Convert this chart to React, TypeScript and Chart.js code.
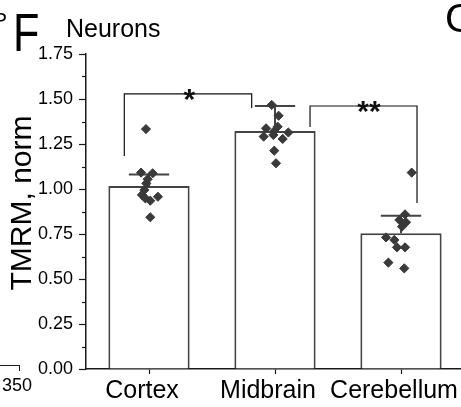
import React, { useEffect, useRef } from 'react';
import { Chart, registerables } from 'chart.js';

Chart.register(...registerables);

const FONT = '"Liberation Sans", Arial, Helvetica, sans-serif';

// ---- data ----
const categories = ['Cortex', 'Midbrain', 'Cerebellum'];
const barMeans = [1.017, 1.322, 0.754];
const errUpper = [1.081, 1.461, 0.852];

const cortexValues = [1.333, 1.091, 1.087, 1.054, 1.031, 0.994, 0.967, 0.948, 0.935, 0.957, 0.843];
const cortexJitter = [-0.024, -0.063, 0.029, -0.011, -0.021, -0.037, -0.056, -0.029, 0.01, 0.071, 0.01];
const midbrainValues = [1.467, 1.407, 1.346, 1.337, 1.322, 1.3, 1.291, 1.314, 1.278, 1.213, 1.143];
const midbrainJitter = [-0.026, 0.029, 0.021, -0.071, -0.006, -0.013, -0.09, 0.106, 0.061, -0.006, 0.008];
const cerebellumValues = [1.091, 0.859, 0.828, 0.815, 0.791, 0.731, 0.717, 0.676, 0.676, 0.591, 0.559];
const cerebellumJitter = [0.085, 0.032, -0.013, 0.04, 0.008, -0.119, -0.053, -0.032, 0.032, -0.1, 0.026];

const yMin = 0;
const yMax = 1.75;
const yMajorStep = 0.25;
const yMinorTicks = [0.125, 0.375, 0.625, 0.875, 1.125, 1.375, 1.625];

const bracketStarts = [-0.196, 1.278];
const bracketEnds = [0.815, 2.127];
const bracketTops = [1.528, 1.461];
const bracketLeftFeet = [1.183, 1.344];
const bracketRightFeet = [1.45, 0.922];
const bracketLabels = ['*', '**'];
const bracketLabelPos = [0.32, 1.746];

const yTitle = 'TMRM, norm';
const panelTitle = 'Neurons';

const BAR_EDGE = '#444444';
const POINT_COLOR = '#3a3a3a';
const AXIS_COLOR = '#1a1a1a';

const groups = [
  { values: cortexValues, jitter: cortexJitter },
  { values: midbrainValues, jitter: midbrainJitter },
  { values: cerebellumValues, jitter: cerebellumJitter },
];

const scatterPoints = groups.flatMap((g, i) =>
  g.values.map((v, k) => ({ x: i + g.jitter[k], y: v }))
);
const barPoints = barMeans.map((m, i) => ({ x: i, y: m }));

const errorBarPlugin = {
  id: 'errorBars',
  afterDatasetDraw(chart: any, args: any) {
    if (args.index !== 0) return;
    const { ctx } = chart;
    const xs = chart.scales.x;
    const ys = chart.scales.y;
    const capHalf = 0.16;
    ctx.save();
    ctx.strokeStyle = BAR_EDGE;
    ctx.lineWidth = 2;
    barMeans.forEach((m, i) => {
      const px = xs.getPixelForValue(i);
      const y0 = ys.getPixelForValue(m);
      const y1 = ys.getPixelForValue(errUpper[i]);
      ctx.beginPath();
      ctx.moveTo(px, y0);
      ctx.lineTo(px, y1);
      ctx.moveTo(xs.getPixelForValue(i - capHalf), y1);
      ctx.lineTo(xs.getPixelForValue(i + capHalf), y1);
      ctx.stroke();
    });
    ctx.restore();
  },
};

const decorPlugin = {
  id: 'decor',
  afterDatasetsDraw(chart: any) {
    const { ctx, chartArea } = chart;
    const xs = chart.scales.x;
    const ys = chart.scales.y;
    ctx.save();
    // minor ticks
    ctx.strokeStyle = AXIS_COLOR;
    ctx.lineWidth = 1.2;
    yMinorTicks.forEach((v) => {
      const py = Math.round(ys.getPixelForValue(v)) + 0.5;
      ctx.beginPath();
      ctx.moveTo(chartArea.left - 4, py);
      ctx.lineTo(chartArea.left, py);
      ctx.stroke();
    });
    // significance brackets
    ctx.strokeStyle = '#111';
    ctx.lineWidth = 1.2;
    bracketLabels.forEach((lab, i) => {
      const x1 = xs.getPixelForValue(bracketStarts[i]);
      const x2 = xs.getPixelForValue(bracketEnds[i]);
      const yt = ys.getPixelForValue(bracketTops[i]);
      ctx.beginPath();
      ctx.moveTo(x1, ys.getPixelForValue(bracketLeftFeet[i]));
      ctx.lineTo(x1, yt);
      ctx.lineTo(x2, yt);
      ctx.lineTo(x2, ys.getPixelForValue(bracketRightFeet[i]));
      ctx.stroke();
      ctx.fillStyle = '#111';
      ctx.font = `bold 30px ${FONT}`;
      ctx.textAlign = 'center';
      ctx.textBaseline = 'alphabetic';
      ctx.fillText(lab, xs.getPixelForValue(bracketLabelPos[i]), yt + 15);
    });
    // y title
    ctx.fillStyle = '#000';
    ctx.font = `30px ${FONT}`;
    ctx.textAlign = 'center';
    ctx.textBaseline = 'middle';
    ctx.translate(23, 203);
    ctx.rotate(-Math.PI / 2);
    ctx.fillText(yTitle, 0, 0);
    ctx.restore();
  },
};

export default function App() {
  const ref = useRef<HTMLCanvasElement | null>(null);

  useEffect(() => {
    if (!ref.current) return;
    const chart = new Chart(ref.current, {
      type: 'bar',
      data: {
        datasets: [
          {
            type: 'bar',
            data: barPoints,
            backgroundColor: '#ffffff',
            borderColor: BAR_EDGE,
            borderWidth: 2,
            barPercentage: 0.645,
            categoryPercentage: 1,
            grouped: false,
            order: 2,
          } as any,
          {
            type: 'scatter',
            data: scatterPoints,
            pointStyle: 'rectRot',
            pointRadius: 4.6,
            backgroundColor: POINT_COLOR,
            borderColor: POINT_COLOR,
            borderWidth: 1,
            order: 1,
          } as any,
        ],
      },
      options: {
        animation: false,
        responsive: false,
        devicePixelRatio: 1,
        layout: { padding: { top: 54, right: 16, left: 0, bottom: 0 } },
        plugins: {
          legend: { display: false },
          tooltip: { enabled: false },
          title: { display: false },
        },
        scales: {
          x: {
            type: 'linear',
            min: -0.5,
            max: 2.5,
            offset: false,
            afterBuildTicks: (s: any) => {
              s.ticks = categories.map((_, i) => ({ value: i }));
            },
            afterFit: (s: any) => {
              s.height = 38;
            },
            grid: {
              drawOnChartArea: false,
              drawTicks: true,
              tickLength: 5,
              offset: false,
              tickColor: AXIS_COLOR,
              tickWidth: 1.2,
            },
            border: { display: true, color: AXIS_COLOR, width: 1.5 },
            ticks: {
              color: '#000',
              padding: 2,
              labelOffset: -7,
              font: { family: FONT, size: 25 },
              maxRotation: 0,
              autoSkip: false,
              callback: (v: any) => categories[Math.round(Number(v))] ?? '',
            },
          },
          y: {
            type: 'linear',
            min: yMin,
            max: yMax,
            afterFit: (s: any) => {
              s.width = 86;
            },
            grid: {
              drawOnChartArea: false,
              drawTicks: true,
              tickLength: 7,
              tickColor: AXIS_COLOR,
              tickWidth: 1.2,
            },
            border: { display: true, color: AXIS_COLOR, width: 1.5 },
            ticks: {
              stepSize: yMajorStep,
              color: '#000',
              padding: 6,
              font: { family: FONT, size: 18 },
              callback: (v: any) => Number(v).toFixed(2),
            },
          },
        },
      } as any,
      plugins: [errorBarPlugin, decorPlugin],
    });
    return () => chart.destroy();
  }, []);

  const txt = (extra: React.CSSProperties): React.CSSProperties => ({
    position: 'absolute',
    fontFamily: FONT,
    lineHeight: 1,
    color: '#000',
    whiteSpace: 'nowrap',
    margin: 0,
    ...extra,
  });

  return (
    <div
      style={{
        position: 'fixed',
        left: 0,
        top: 0,
        width: 461,
        height: 407,
        overflow: 'hidden',
        background: '#fff',
      }}
    >
      <canvas ref={ref} width={480} height={407} style={{ display: 'block' }} />
      <div style={txt({ left: -7, top: 9, fontSize: 21 })}>P</div>
      <div
        style={txt({
          left: 13,
          top: 5,
          fontSize: 54,
          transform: 'scaleX(0.8)',
          transformOrigin: 'left top',
        })}
      >
        F
      </div>
      <div style={txt({ left: 66, top: 16, fontSize: 25 })}>{panelTitle}</div>
      <div style={txt({ left: 445, top: -2, fontSize: 40 })}>G</div>
      <div style={txt({ left: 2, top: 376, fontSize: 18 })}>350</div>
      <div
        style={{
          position: 'absolute',
          left: 0,
          top: 365,
          width: 19,
          height: 5,
          borderTop: `1.2px solid ${AXIS_COLOR}`,
          borderRight: `1.2px solid ${AXIS_COLOR}`,
        }}
      />
    </div>
  );
}
